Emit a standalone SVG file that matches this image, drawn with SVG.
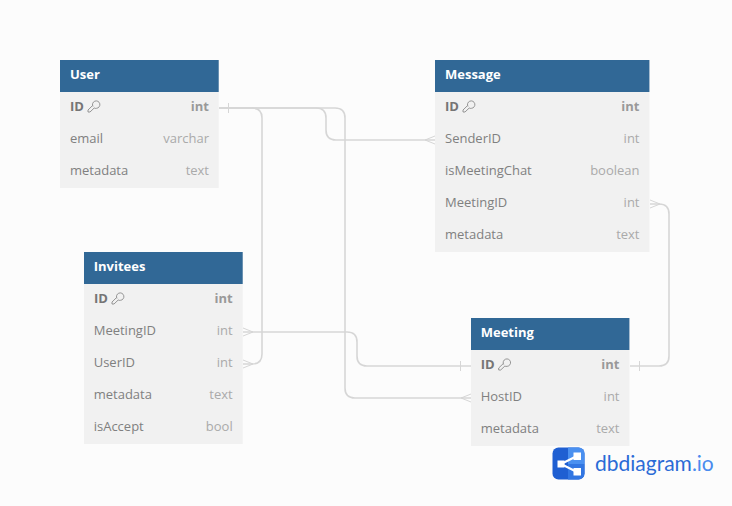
<svg xmlns="http://www.w3.org/2000/svg" width="732" height="506" viewBox="0 0 732 506">
<style>
text{font-family:"Open Sans","Noto Sans","Liberation Sans",sans-serif;font-size:13px}
.hd{fill:#316896}
.bd{fill:#f1f1f1}
.ttl{fill:#fff;font-weight:700}
.nm{fill:#808080}
.ty{fill:#aaa;text-anchor:end}
.b{font-weight:700}
.nm.b{fill:#757575}
.ty.b{fill:#999}
.c{fill:none;stroke:#d6d6d6;stroke-width:1.600}
.m{fill:none;stroke:#d6d6d6;stroke-width:1}
.k{fill:none;stroke:#8a8a8a;stroke-width:.9}
</style>
<defs>
<g id="key"><path d="M6 -5.500A3.700 3.700 0 1 1 9.500 -3.700C8.500 -3.400 7.800 -3.600 7.200 -4L3 0H1V-2L5.300 -6.200" class="k"/></g>
</defs>
<rect width="732" height="506" fill="#fcfcfc"/>
<g id="connectors">
<path class="c" d="M219 108H316Q326 108 326 118V130Q326 140 336 140H435"/>
<path class="c" d="M219 108H335Q345 108 345 118V388Q345 398 355 398H471"/>
<path class="c" d="M219 108H252Q262 108 262 118V354Q262 364 252 364H243"/>
<path class="c" d="M243 332H347Q357 332 357 342V356Q357 366 367 366H471"/>
<path class="c" d="M630 366H659Q669 366 669 356V214Q669 204 659 204H650"/>
<path class="m" d="M228.500 103V113M460.500 361V371M639.500 361V371"/>
<path class="m" d="M435 136L425 140L435 144M471 394L461 398L471 402M243 328L253 332L243 336M243 360L253 364L243 368M650 200L660 204L650 208"/>
</g>
<g id="user">
<rect class="bd" x="60" y="60" width="158.700" height="128"/><rect class="hd" x="60" y="60" width="158.700" height="32"/>
<text class="ttl" x="70" y="79">User</text>
<text class="nm b" x="70" y="111">ID</text><use href="#key" x="87" y="112"/><text class="ty b" x="209" y="111">int</text>
<text class="nm" x="70" y="143">email</text><text class="ty" x="209" y="143">varchar</text>
<text class="nm" x="70" y="175">metadata</text><text class="ty" x="209" y="175">text</text>
</g>
<g id="message">
<rect class="bd" x="435" y="60" width="214.400" height="192"/><rect class="hd" x="435" y="60" width="214.400" height="32"/>
<text class="ttl" x="445" y="79">Message</text>
<text class="nm b" x="445" y="111">ID</text><use href="#key" x="462" y="112"/><text class="ty b" x="639.500" y="111">int</text>
<text class="nm" x="445" y="143">SenderID</text><text class="ty" x="639.500" y="143">int</text>
<text class="nm" x="445" y="175">isMeetingChat</text><text class="ty" x="639.500" y="175">boolean</text>
<text class="nm" x="445" y="207">MeetingID</text><text class="ty" x="639.500" y="207">int</text>
<text class="nm" x="445" y="239">metadata</text><text class="ty" x="639.500" y="239">text</text>
</g>
<g id="invitees">
<rect class="bd" x="84" y="252" width="158.700" height="192"/><rect class="hd" x="84" y="252" width="158.700" height="32"/>
<text class="ttl" x="93.700" y="271">Invitees</text>
<text class="nm b" x="94" y="303">ID</text><use href="#key" x="111" y="304"/><text class="ty b" x="232.700" y="303">int</text>
<text class="nm" x="93.700" y="335">MeetingID</text><text class="ty" x="232.700" y="335">int</text>
<text class="nm" x="93.700" y="367">UserID</text><text class="ty" x="232.700" y="367">int</text>
<text class="nm" x="93.700" y="399">metadata</text><text class="ty" x="232.700" y="399">text</text>
<text class="nm" x="93.700" y="431">isAccept</text><text class="ty" x="232.700" y="431">bool</text>
</g>
<g id="meeting">
<rect class="bd" x="471" y="318" width="158.400" height="128"/><rect class="hd" x="471" y="318" width="158.400" height="32"/>
<text class="ttl" x="480.700" y="337">Meeting</text>
<text class="nm b" x="480.700" y="369">ID</text><use href="#key" x="497.700" y="370"/><text class="ty b" x="619.500" y="369">int</text>
<text class="nm" x="480.700" y="401">HostID</text><text class="ty" x="619.500" y="401">int</text>
<text class="nm" x="480.700" y="433">metadata</text><text class="ty" x="619.500" y="433">text</text>
</g>
<g id="logo">
<rect x="552.500" y="447.500" width="32" height="32" rx="6" fill="#1f5fd2"/>
<path d="M568 447.500H578.500A6 6 0 0 1 584.500 453.500V464H568Z" fill="#4a90f0"/>
<path d="M568 464H584.500V473.500A6 6 0 0 1 578.500 479.500H568Z" fill="#3276e2"/>
<path d="M561 464L577 456M561 464L577 472" stroke="#fff" stroke-width="2" fill="none"/>
<path d="M557.500 460.500H564.500V467.500H557.500ZM573.500 452.500H581V460H573.500ZM573.500 468H581V475.500H573.500Z" fill="#fff"/>
<text x="595" y="471" style="font-size:21px;font-family:'Lato','Noto Sans',sans-serif" fill="#2a6bd6">dbdiagram<tspan fill="#4a8bee">.io</tspan></text>
</g>
</svg>
